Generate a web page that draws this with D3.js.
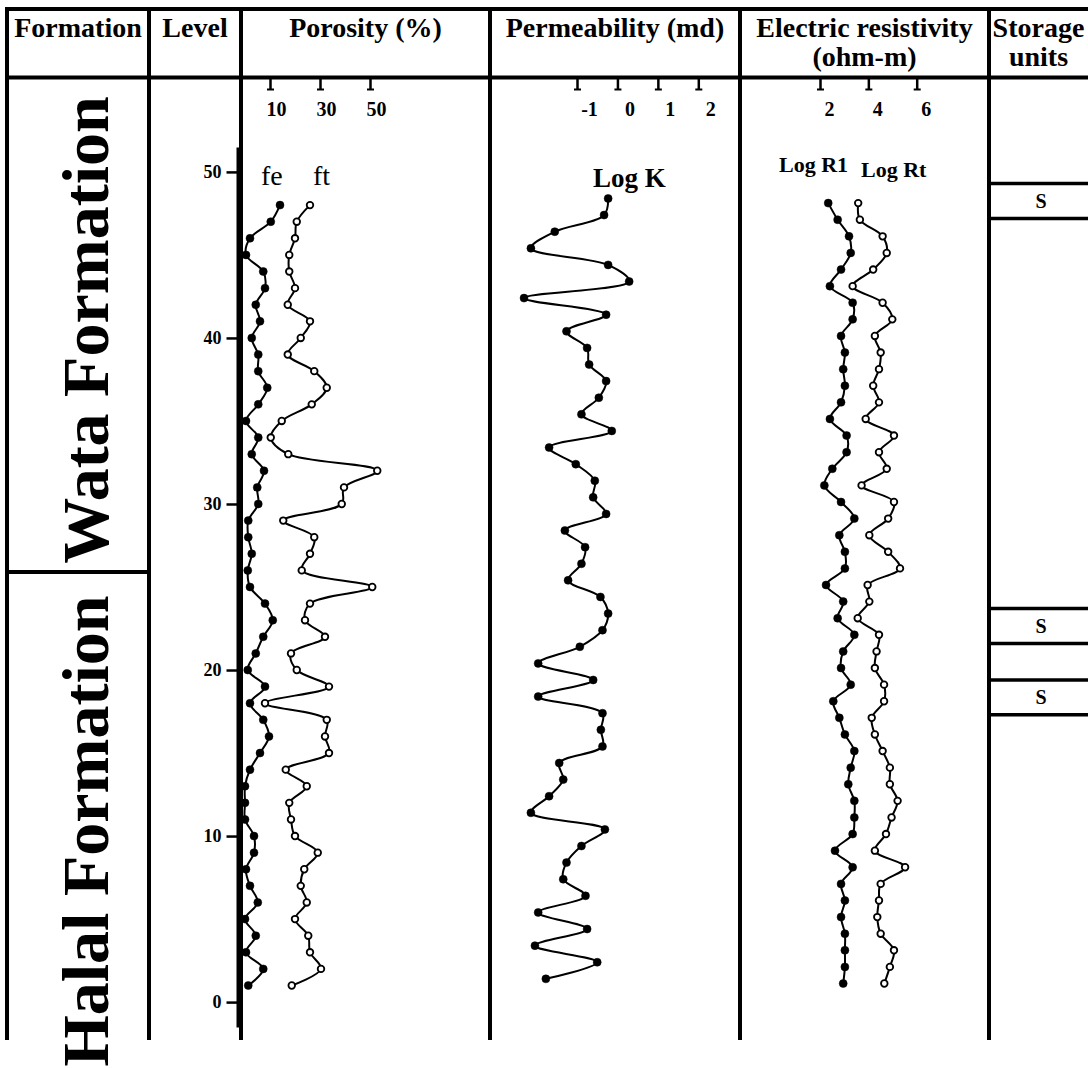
<!DOCTYPE html>
<html>
<head>
<meta charset="utf-8">
<script src="https://cdn.jsdelivr.net/npm/d3@7"></script>
<style>
  body { margin: 0; background: #fff; }
  svg { display: block; font-family: "Liberation Serif", "Times New Roman", serif; }
</style>
</head>
<body>
<script>
// sample levels, top to bottom
const levels = [48, 47, 46, 45, 44, 43, 42, 41, 40, 39, 38, 37, 36, 35, 34, 33, 32, 31, 30, 29,
                28, 27, 26, 25, 24, 23, 22, 21, 20, 19, 18, 17, 16, 15, 14, 13, 12, 11, 10, 9,
                8, 7, 6, 5, 4, 3, 2, 1];

// porosity (%)
const fe = [14, 10.3, 2, 0.4, 7.3, 8, 4.3, 6, 2.7, 5.3, 5.3, 8.9, 5.3, 0.4, 5.3, 2.7, 7.6, 4.9, 5.3, 1.3,
            1.3, 2.7, 1.1, 2, 8, 11.1, 7.3, 4.3, 1.1, 8, 2, 7.3, 9.6, 6, 2, 0, 0, 0, 3.6, 3.6,
            0.4, 2, 5.1, 0, 4.3, 0.4, 7.3, 1.3];
const ft = [26, 20.7, 20, 17.7, 17.7, 20, 17.1, 26, 22.3, 17.1, 27.7, 32.7, 26.7, 14.7, 10.3, 17.3, 52.9, 39.6, 38.7, 15.3,
            27.7, 26, 22.7, 50.9, 26, 24, 32, 18.4, 20.7, 33.6, 8, 32.7, 32, 33.6, 16.3, 24.7, 17.7, 18.4, 20, 29.1,
            23.7, 22.3, 24.7, 20, 25.3, 26, 30.4, 18.7];

// permeability (log md)
const logK = [-0.23, -0.33, -1.55, -2.14, -0.23, 0.29, -2.31, -0.28, -1.26, -0.75, -0.70, -0.28, -0.46, -0.89, -0.14, -1.69,
              -1.03, -0.56, -0.60, -0.28, -1.30, -0.80, -0.89, -1.22, -0.42, -0.23, -0.37, -0.93, -1.96, -0.60, -1.96, -0.37,
              -0.41, -0.37, -1.44, -1.34, -1.69, -2.14, -0.31, -0.89, -1.26, -1.34, -0.79, -1.96, -0.75, -2.04, -0.50, -1.77];

// electric resistivity (log ohm-m)
const logR1 = [2.34, 2.73, 3.20, 3.27, 2.87, 2.41, 3.35, 3.35, 2.87, 3.03, 2.96, 3.03, 2.87, 2.41, 3.10, 3.10,
               2.51, 2.18, 2.87, 3.42, 2.80, 3.03, 3.03, 2.25, 2.96, 2.73, 3.42, 2.96, 2.87, 3.27, 2.55, 2.80,
               3.03, 3.42, 3.27, 3.17, 3.42, 3.42, 3.35, 2.62, 3.35, 2.87, 3.03, 2.87, 3.03, 3.03, 3.03, 2.96];
const logRt = [3.58, 3.65, 4.59, 4.76, 4.20, 3.35, 4.59, 4.99, 4.27, 4.51, 4.44, 4.20, 4.44, 3.89, 5.06, 4.44,
               4.76, 3.72, 5.06, 4.82, 4.04, 4.82, 5.31, 3.97, 4.04, 3.56, 4.44, 4.34, 4.27, 4.65, 4.65, 4.14,
               4.27, 4.59, 4.89, 4.89, 5.21, 4.96, 4.73, 4.27, 5.52, 4.51, 4.44, 4.37, 4.51, 5.06, 4.89, 4.66];

// tick labels
const levelTicks = [0, 10, 20, 30, 40, 50];
const porosityTicks = [10, 30, 50];
const permTicks = [-1, 0, 1, 2];
const resTicks = [2, 4, 6];

// table text
const columns = ["Formation", "Level", "Porosity (%)", "Permeability (md)", "Electric resistivity\n(ohm-m)", "Storage\nunits"];
const formationNames = ["Wata Formation", "Halal Formation"];
const formationBoundary = 25.9;   // level of the Wata / Halal contact
const storageUnits = [[49.3, 47.2], [23.7, 21.6], [19.4, 17.3]];
const storageLabel = "S";

// ---- layout ----
const W = 1088, H = 1068;
const colEdges = [7, 149, 241, 490, 740, 989, 1088];
const topY = 9, headY = 77.5, bottomY = 1040;
const serif = "Liberation Serif, Times New Roman, serif";

const svg = d3.select("body").append("svg").attr("width", W).attr("height", H);
svg.append("rect").attr("width", W).attr("height", H).attr("fill", "#fff");

const y = d3.scaleLinear().domain([-1.5, 51.5]).range([1027, 147]);
const xPor = d3.scaleLinear().domain([0, 50]).range([245, 370]);
const xPerm = d3.scaleLinear().domain([-1, 2]).range([577, 698.3]);
const xRes = d3.scaleLinear().domain([2, 6]).range([820, 916.7]);

// grid of the table
const grid = svg.append("g").attr("stroke", "#000").attr("stroke-width", 4);
grid.append("line").attr("x1", 5).attr("x2", W).attr("y1", topY).attr("y2", topY);
grid.append("line").attr("x1", 5).attr("x2", W).attr("y1", headY).attr("y2", headY);
colEdges.slice(0, -1).forEach(function(x){
    grid.append("line").attr("x1", x).attr("x2", x).attr("y1", topY - 2).attr("y2", bottomY);
});
grid.append("line")
    .attr("x1", colEdges[0]).attr("x2", colEdges[1])
    .attr("y1", y(formationBoundary)).attr("y2", y(formationBoundary));

// header
columns.forEach(function(c, i){
    let cx = (colEdges[i] + colEdges[i + 1]) / 2;
    let t = svg.append("text")
        .attr("text-anchor", "middle")
        .attr("font-size", 28).attr("font-weight", "bold");
    c.split("\n").forEach(function(line, j){
        t.append("tspan").attr("x", cx).attr("y", 37 + j * 29).text(line);
    });
});

// formation names, written bottom to top
const formationCenters = [330, 831];
formationNames.forEach(function(name, i){
    svg.append("text")
        .attr("transform", "translate(108," + formationCenters[i] + ") rotate(-90)")
        .attr("text-anchor", "middle")
        .attr("font-size", 66).attr("font-weight", "bold")
        .text(name);
});

// storage units
const store = svg.append("g");
storageUnits.forEach(function(u){
    u.forEach(function(l){
        store.append("line")
            .attr("x1", colEdges[5]).attr("x2", W)
            .attr("y1", y(l)).attr("y2", y(l))
            .attr("stroke", "#000").attr("stroke-width", 3.5);
    });
    store.append("text")
        .attr("x", 1041).attr("y", (y(u[0]) + y(u[1])) / 2 + 7)
        .attr("text-anchor", "middle")
        .attr("font-size", 20).attr("font-weight", "bold")
        .text(storageLabel);
});

// level axis
const levelAxis = svg.append("g")
    .attr("transform", "translate(238.5,0)")
    .call(d3.axisLeft(y).tickValues(levelTicks).tickSize(12).tickSizeOuter(0).tickPadding(5));
levelAxis.select(".domain").attr("stroke-width", 5);
levelAxis.selectAll(".tick line").attr("stroke-width", 2.5);
levelAxis.selectAll(".tick text")
    .attr("font-family", serif)
    .attr("font-size", 18).attr("font-weight", "bold");

// top scales for each track
function topScale(scale, ticks, labelDx){
    let g = svg.append("g")
        .attr("transform", "translate(0,79)")
        .call(d3.axisBottom(scale).tickValues(ticks).tickFormat(d => String(d))
            .tickSize(11).tickSizeOuter(0));
    g.select(".domain").remove();
    g.selectAll(".tick line").attr("stroke-width", 2.5);
    g.selectAll(".tick").append("line")
        .attr("x1", -3.5).attr("x2", 3.5).attr("y1", 10.5).attr("y2", 10.5)
        .attr("stroke", "#000").attr("stroke-width", 2);
    g.selectAll(".tick text")
        .attr("y", 36.5).attr("dy", "0").attr("dx", labelDx)
        .attr("font-family", serif)
        .attr("font-size", 20).attr("font-weight", "bold");
}
topScale(xPor, porosityTicks, 6);
topScale(xPerm, permTicks, 12);
topScale(xRes, resTicks, 9);

// curves
const tracks = [
    {name: "fe", values: fe, x: xPor, open: false, shift: 0, lx: 261, ly: 185, size: 28, weight: "normal"},
    {name: "ft", values: ft, x: xPor, open: true, shift: 0, lx: 313, ly: 185, size: 28, weight: "normal"},
    {name: "Log K", values: logK, x: xPerm, open: false, shift: 0.4, lx: 593, ly: 187, size: 27, weight: "bold"},
    {name: "Log R1", values: logR1, x: xRes, open: false, shift: 0.12, lx: 779, ly: 172, size: 22, weight: "bold"},
    {name: "Log Rt", values: logRt, x: xRes, open: true, shift: 0.12, lx: 861, ly: 177, size: 22, weight: "bold"}
];

tracks.forEach(function(t){
    let pts = t.values.map((v, i) => ({v: v, level: levels[i] + t.shift}));
    let line = d3.line()
        .x(d => t.x(d.v))
        .y(d => y(d.level))
        .curve(d3.curveCatmullRom.alpha(0.5));
    let g = svg.append("g");
    g.append("path")
        .attr("d", line(pts))
        .attr("fill", "none").attr("stroke", "#000").attr("stroke-width", 2);
    g.selectAll("circle").data(pts).join("circle")
        .attr("cx", d => t.x(d.v))
        .attr("cy", d => y(d.level))
        .attr("r", t.open ? 3.3 : 4)
        .attr("fill", t.open ? "#fff" : "#000")
        .attr("stroke", "#000")
        .attr("stroke-width", t.open ? 1.8 : 0.5);
    svg.append("text")
        .attr("x", t.lx).attr("y", t.ly)
        .attr("font-size", t.size).attr("font-weight", t.weight)
        .text(t.name);
});
</script>
</body>
</html>
